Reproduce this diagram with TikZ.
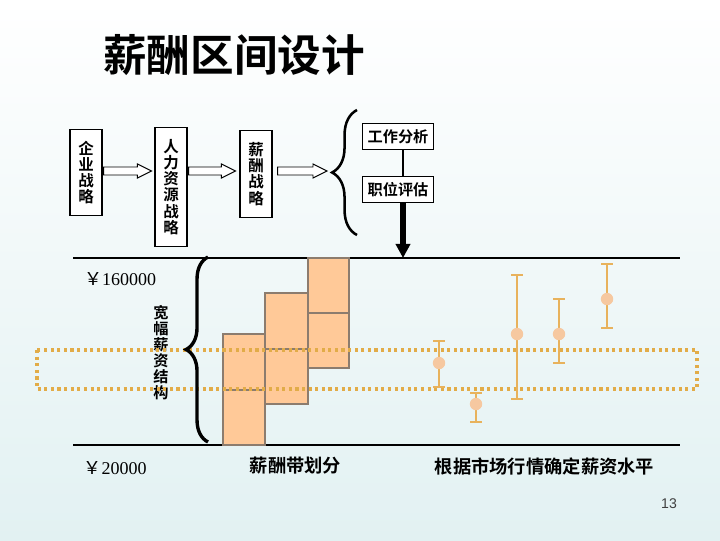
\documentclass[tikz,border=0pt]{standalone}
\usepackage{fontspec}
\setmainfont{Liberation Serif}
\newfontfamily\cjk{Noto Sans CJK SC}[BoldFont={Noto Sans CJK SC Bold}]
\newfontfamily\pagefont{Liberation Sans}
\usetikzlibrary{arrows.meta, calc, decorations.pathreplacing}

\definecolor{bgcyan}{RGB}{226,241,242}
\definecolor{bandfill}{RGB}{255,201,152}
\definecolor{bandline}{RGB}{140,124,110}
\definecolor{dotgold}{RGB}{226,172,72}
\definecolor{barline}{RGB}{232,178,92}
\definecolor{marker}{RGB}{246,200,160}

\tikzset{
  flowbox/.style={draw, fill=white, line width=0.8pt, minimum width=22.7pt, inner xsep=0pt, inner ysep=8.3pt,
    align=center, font=\cjk\bfseries\fontsize{11}{11.5}\selectfont},
  taskbox/.style={draw, fill=white, line width=0.8pt, minimum width=50.3pt, minimum height=19.1pt, inner sep=0pt,
    font=\cjk\bfseries\fontsize{10.8}{12}\selectfont},
  harrow/.style={draw, fill=white, line width=0.7pt},
  bigarrow/.style={line width=4pt, -{Triangle[width=10pt,length=10pt]}},
  curly/.style={decorate, decoration={brace, amplitude=#1}, line width=1.8pt},
  axisline/.style={line width=0.8pt},
  money/.style={font=\fontsize{12.8}{14}\selectfont},
  caption/.style={font=\cjk\bfseries\fontsize{13}{15}\selectfont},
  band/.style={draw=bandline, fill=bandfill, line width=2pt},
  dotband/.style={draw=dotgold, line width=2.2pt, dash pattern=on 2.2pt off 2.5pt},
  errbar/.style={draw=barline, line width=0.9pt},
}

% hollow block arrow between two coordinates on one level
\newcommand{\hollowarrow}[2]{%
  \draw[harrow] ($(#1)+(0,4)$) -- ($(#2)+(-14,4)$) -- ($(#2)+(-14,7)$) -- (#2)
    -- ($(#2)+(-14,-7)$) -- ($(#2)+(-14,-4)$) -- ($(#1)+(0,-4)$) -- cycle;}

\begin{document}
\begin{tikzpicture}[x=0.025cm, y=-0.025cm]
    \useasboundingbox (0,0) rectangle (720,540);
    \fill[top color=white, bottom color=bgcyan] (0,0) rectangle (720,540);

    \node[font=\cjk\bfseries\fontsize{31}{36}\selectfont] (title) at (234,55) {薪酬区间设计};

    % strategy chain
    \node[flowbox] (q1) at (86,172.5) {企\\业\\战\\略};
    \node[flowbox] (q2) at (171,187) {人\\力\\资\\源\\战\\略};
    \node[flowbox] (q3) at (256,174) {薪\\酬\\战\\略};
    \coordinate (a1) at ($(q1.east)+(1,-1.5)$);
    \coordinate (b1) at ($(q2.west |- a1)+(-3,0)$);
    \coordinate (a2) at ($(q2.east |- a1)+(1,0)$);
    \coordinate (b2) at ($(q3.west |- a1)+(-4,0)$);
    \coordinate (a3) at ($(q3.east |- a1)+(5,0)$);
    \coordinate (b3) at (327,171);
    \hollowarrow{a1}{b1}
    \hollowarrow{a2}{b2}
    \hollowarrow{a3}{b3}

    \coordinate (brA) at (357,235);
    \coordinate (brB) at (357,110);
    \draw[curly=17.7pt] (brA) -- (brB);

    \node[taskbox] (ja) at (398,136.5) {工作分析};
    \node[taskbox] (pe) at (398,189.5) {职位评估};
    \coordinate (axisx) at (403,0);

    % salary range
    \coordinate (topL) at (73,258);
    \coordinate (topR) at (680,258);
    \coordinate (botL) at (73,445);
    \coordinate (botR) at (680,445);
    \draw[axisline] (topL) -- (topR);
    \draw[axisline] (botL) -- (botR);

    \draw[line width=2pt] (ja.south -| axisx) -- (pe.north -| axisx);
    \draw[bigarrow] (pe.south -| axisx) -- (topL -| axisx);

    \node[money] (ymax) at (120,279) {{\cjk ￥}160000};
    \node[money] (ymin) at (115,468) {{\cjk ￥}20000};
    \node[align=center, font=\cjk\bfseries\fontsize{10.8}{11.3}\selectfont] (kf) at (161,352.5) {宽\\幅\\薪\\资\\结\\构};

    \foreach \xa/\xb/\yt/\ym/\yb in {223/265/334/390/445, 265/308/293/349/404, 308/349/258/313/368} {
        \draw[band] (\xa,\yt) rectangle (\xb,\yb);
        \draw[band] (\xa,\ym) -- (\xb,\ym);
    }

    \draw[dotband] (37,350) rectangle (697,389);

    \coordinate (bcA) at (208,442);
    \coordinate (bcB) at (208,257);
    \draw[curly=15.6pt, line width=2.4pt] (bcA) -- (bcB);

    \foreach \x/\yt/\yc/\yb in {439/341/363/387, 476/393/404/422, 517/275/334/399, 559/299/334/363, 607/264/299/328} {
        \draw[errbar] (\x,\yt) -- (\x,\yb);
        \draw[errbar] (\x-6,\yt) -- (\x+6,\yt);
        \draw[errbar] (\x-6,\yb) -- (\x+6,\yb);
        \fill[marker] (\x,\yc) circle (6.2);
    }

    \node[caption] (cap1) at (295.5,466) {薪酬带划分};
    \node[caption] (cap2) at (544.5,466) {根据市场行情确定薪资水平};
    \node[font=\pagefont\fontsize{10}{12}\selectfont, text=black!75] (pg) at (669,504) {13};
\end{tikzpicture}
\end{document}
